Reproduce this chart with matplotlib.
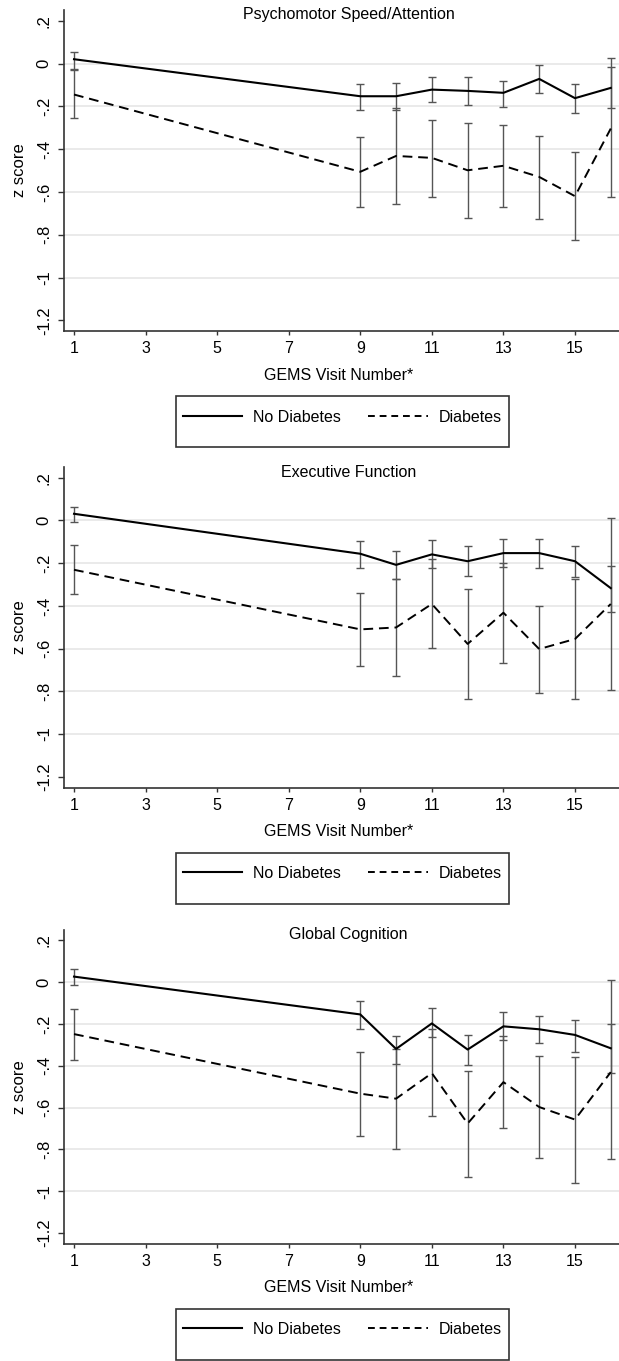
import matplotlib
matplotlib.use('Agg')
import matplotlib.pyplot as plt
from matplotlib.lines import Line2D
from matplotlib.patches import Rectangle
import numpy as np

plt.rcParams['font.family'] = ['Liberation Sans', 'DejaVu Sans']

# GEMS visits shown on the x axis
visits = [1, 9, 10, 11, 12, 13, 14, 15, 16]
xticks = [1, 3, 5, 7, 9, 11, 13, 15]
yticks = [0.2, 0, -0.2, -0.4, -0.6, -0.8, -1, -1.2]
ytick_labels = ['.2', '0', '-.2', '-.4', '-.6', '-.8', '-1', '-1.2']

titles = ['Psychomotor Speed/Attention', 'Executive Function', 'Global Cognition']

# Psychomotor speed / attention
psy_nodm = [0.020, -0.153, -0.153, -0.122, -0.128, -0.137, -0.072, -0.162, -0.114]
psy_nodm_lo = [-0.028, -0.215, -0.215, -0.181, -0.193, -0.203, -0.136, -0.231, -0.207]
psy_nodm_hi = [0.055, -0.097, -0.090, -0.062, -0.062, -0.081, -0.009, -0.097, -0.016]
psy_dm = [-0.145, -0.506, -0.432, -0.441, -0.499, -0.478, -0.530, -0.620, -0.304]
psy_dm_lo = [-0.257, -0.670, -0.655, -0.623, -0.720, -0.670, -0.726, -0.827, -0.626]
psy_dm_hi = [-0.031, -0.343, -0.207, -0.262, -0.277, -0.288, -0.338, -0.413, 0.027]

# Executive function
exe_nodm = [0.031, -0.156, -0.208, -0.159, -0.191, -0.153, -0.153, -0.191, -0.317]
exe_nodm_lo = [-0.008, -0.221, -0.273, -0.222, -0.258, -0.216, -0.225, -0.263, -0.430]
exe_nodm_hi = [0.065, -0.095, -0.144, -0.092, -0.122, -0.089, -0.087, -0.120, -0.211]
exe_dm = [-0.231, -0.510, -0.501, -0.391, -0.578, -0.432, -0.602, -0.555, -0.391]
exe_dm_lo = [-0.346, -0.683, -0.727, -0.597, -0.836, -0.666, -0.809, -0.836, -0.795]
exe_dm_hi = [-0.117, -0.340, -0.273, -0.180, -0.320, -0.200, -0.400, -0.275, 0.010]

# Global cognition
glb_nodm = [0.027, -0.154, -0.319, -0.197, -0.322, -0.211, -0.225, -0.252, -0.316]
glb_nodm_lo = [-0.013, -0.224, -0.390, -0.263, -0.394, -0.276, -0.292, -0.332, -0.435]
glb_nodm_hi = [0.064, -0.089, -0.256, -0.121, -0.252, -0.141, -0.160, -0.181, -0.200]
glb_dm = [-0.248, -0.533, -0.557, -0.435, -0.676, -0.478, -0.597, -0.657, -0.430]
glb_dm_lo = [-0.371, -0.734, -0.798, -0.641, -0.930, -0.697, -0.840, -0.959, -0.844]
glb_dm_hi = [-0.127, -0.336, -0.319, -0.224, -0.425, -0.256, -0.352, -0.357, 0.011]

panels = [
    (psy_nodm, psy_nodm_lo, psy_nodm_hi, psy_dm, psy_dm_lo, psy_dm_hi),
    (exe_nodm, exe_nodm_lo, exe_nodm_hi, exe_dm, exe_dm_lo, exe_dm_hi),
    (glb_nodm, glb_nodm_lo, glb_nodm_hi, glb_dm, glb_dm_lo, glb_dm_hi),
]

W, H = 619, 1361
fig = plt.figure(figsize=(W / 100, H / 100), dpi=100)

# axes boxes in pixels: (top, bottom)
boxes = [(10, 331), (467, 787.5), (930, 1243.5)]
left_px = 64

dash = (0, (5, 3))
err_col = '#555555'
spine_col = '#333333'

for (top, bot), title, data in zip(boxes, titles, panels):
    nodm, nodm_lo, nodm_hi, dm, dm_lo, dm_hi = [np.array(d) for d in data]
    ax = fig.add_axes([left_px / W, 1 - bot / H, 1 - left_px / W, (bot - top) / H])
    hpx = bot - top

    ax.errorbar(visits, nodm, yerr=[nodm - nodm_lo, nodm_hi - nodm], fmt='none',
                ecolor=err_col, elinewidth=1.0, capsize=3, capthick=1.0, zorder=2)
    ax.errorbar(visits, dm, yerr=[dm - dm_lo, dm_hi - dm], fmt='none',
                ecolor=err_col, elinewidth=1.0, capsize=3, capthick=1.0, zorder=2)
    ax.plot(visits, nodm, color='black', lw=1.5, zorder=3)
    ax.plot(visits, dm, color='black', lw=1.4, linestyle=dash, zorder=3)

    ax.set_xlim(0.72, 16.23)
    ax.set_ylim(-1.25, 0.25)
    ax.set_xticks(xticks)
    ax.set_yticks(yticks)
    ax.set_yticklabels(ytick_labels, rotation=90, va='center')
    ax.tick_params(axis='x', length=3.2, width=1, color=spine_col, pad=4, labelsize=11.5)
    ax.tick_params(axis='y', length=4.3, width=1, color=spine_col, pad=4.5, labelsize=12)

    ax.grid(axis='y', color='#e6e6e6', lw=1.2)
    ax.set_axisbelow(True)
    gl = ax.get_ygridlines()
    gl[0].set_visible(False)
    gl[-1].set_visible(False)

    for s in ['top', 'right']:
        ax.spines[s].set_visible(False)
    for s in ['left', 'bottom']:
        ax.spines[s].set_color(spine_col)
        ax.spines[s].set_linewidth(1.2)

    ax.text(0.513, 1 - 5 / hpx, title, transform=ax.transAxes, ha='center', va='center', fontsize=11.5)

    ax.set_xlabel('GEMS Visit Number*', fontsize=11.5)
    ax.xaxis.set_label_coords(0.495, -44 / hpx)
    ax.xaxis.label.set_va('center')
    ax.set_ylabel('z score', fontsize=12)
    ax.yaxis.set_label_coords(-44 / 555, 0.5)
    ax.yaxis.label.set_va('center')

    # legend box below the axis title
    box_top = bot + 65
    fig.add_artist(Rectangle((176 / W, 1 - (box_top + 51) / H), 333 / W, 51 / H,
                             transform=fig.transFigure, fill=False, edgecolor='#333333', lw=1.2))
    handles = [Line2D([], [], color='black', lw=1.5),
               Line2D([], [], color='black', lw=1.4, linestyle=(0, (3.5, 2.5)))]
    fig.legend(handles, ['No Diabetes', 'Diabetes'], ncol=2, frameon=False,
               loc='center', bbox_to_anchor=(342.5 / W, 1 - (box_top + 21) / H),
               fontsize=11.5, handlelength=3.7, handletextpad=0.7, columnspacing=1.7)

fig.savefig('out.png', dpi=100)
